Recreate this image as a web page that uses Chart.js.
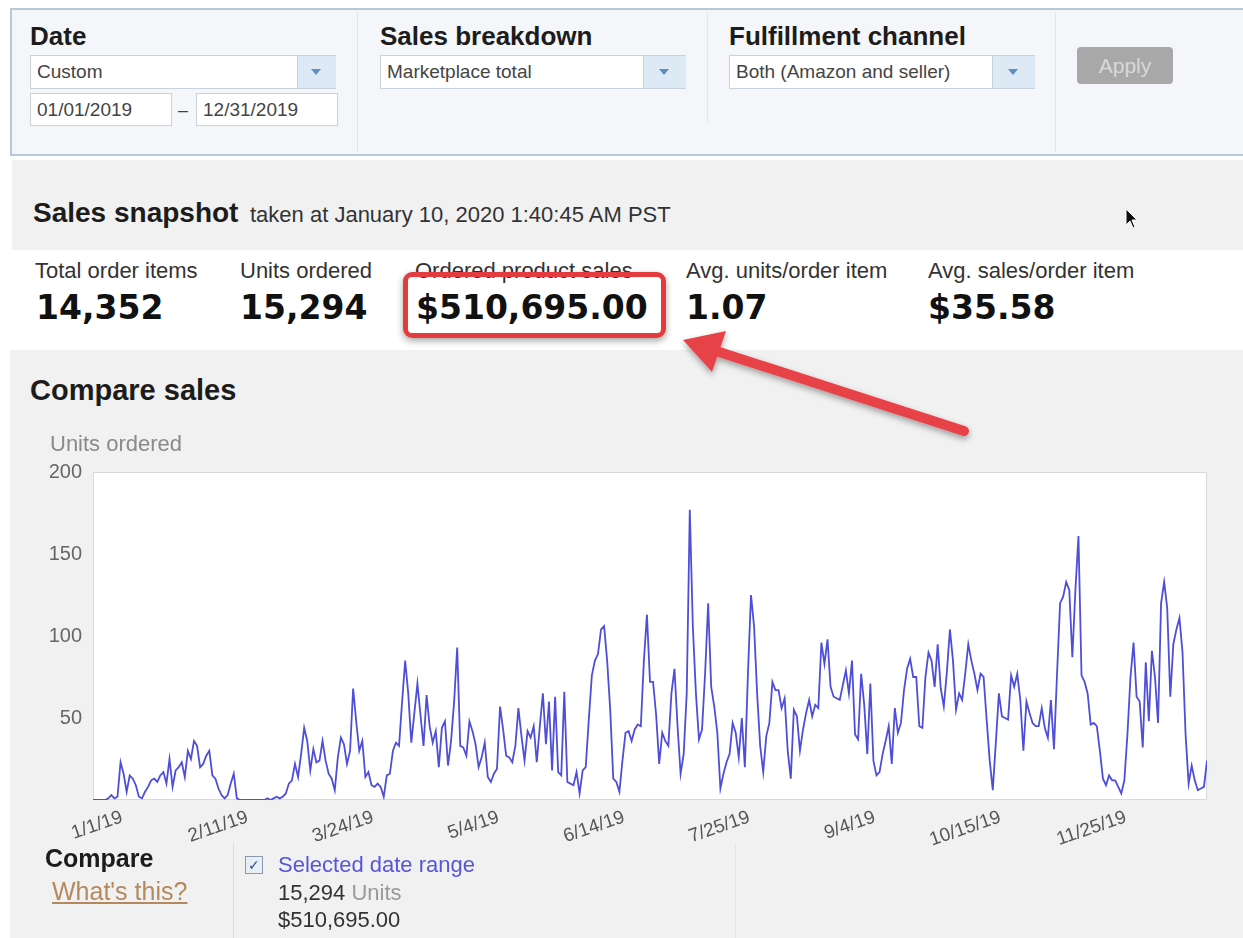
<!DOCTYPE html>
<html>
<head>
<meta charset="utf-8">
<title>Sales dashboard</title>
<script src="https://cdn.jsdelivr.net/npm/chart.js@4.4.1/dist/chart.umd.min.js"></script>
<style>
    body { margin: 0; width: 1243px; height: 938px; overflow: hidden; background: #fff; font-family: "Liberation Sans", Arial, sans-serif; color: #222; position: relative; }
    .abs { position: absolute; white-space: nowrap; }
    .filters { left: 10px; top: 8px; width: 1260px; height: 144px; background: #f4f6f9; border: 2px solid #b7c8d9; }
    .sep { width: 1px; background: #e2e6eb; }
    .head { font-weight: bold; font-size: 26px; color: #1c1c1c; }
    .box { background: #fff; border: 1px solid #c8d2dc; font-size: 19px; color: #444; line-height: 32px; padding-left: 6px; box-sizing: border-box; }
    .arrowbox { background: #dde9f5; border-left: 1px solid #c8d2dc; }
    .tri { width: 0; height: 0; border-left: 5px solid transparent; border-right: 5px solid transparent; border-top: 6px solid #5d8fc0; }
    .apply { background: #a8a8a8; color: #d9d9d9; font-size: 21px; border-radius: 4px; text-align: center; line-height: 37px; }
    .grey { background: #f1f1f1; }
    .mlabel { font-size: 22px; color: #333; }
    .mval { font-family: "DejaVu Sans", Verdana, sans-serif; font-weight: bold; font-size: 33px; color: #111; }
    .redbox { border: 5px solid #e43b3f; border-radius: 9px; box-shadow: 0 3px 7px rgba(0,0,0,0.35); box-sizing: border-box; }
</style>
</head>
<body>
<!-- filter bar -->
<div class="abs filters"></div>
<div class="abs sep" style="left:357px; top:12px; height:140px;"></div>
<div class="abs sep" style="left:707px; top:12px; height:110px;"></div>
<div class="abs sep" style="left:1055px; top:12px; height:140px;"></div>

<div class="abs head" style="left:30px; top:21px;">Date</div>
<div class="abs box" style="left:30px; top:55px; width:306px; height:34px;">Custom</div>
<div class="abs arrowbox" style="left:297px; top:56px; width:38px; height:32px;"></div>
<div class="abs tri" style="left:311px; top:69px;"></div>
<div class="abs box" style="left:30px; top:93px; width:142px; height:33px;">01/01/2019</div>
<div class="abs" style="left:178px; top:100px; font-size:18px; color:#444;">–</div>
<div class="abs box" style="left:196px; top:93px; width:142px; height:33px;">12/31/2019</div>

<div class="abs head" style="left:380px; top:21px;">Sales breakdown</div>
<div class="abs box" style="left:380px; top:55px; width:306px; height:34px;">Marketplace total</div>
<div class="abs arrowbox" style="left:643px; top:56px; width:42px; height:32px;"></div>
<div class="abs tri" style="left:659px; top:69px;"></div>

<div class="abs head" style="left:729px; top:21px;">Fulfillment channel</div>
<div class="abs box" style="left:729px; top:55px; width:306px; height:34px;">Both (Amazon and seller)</div>
<div class="abs arrowbox" style="left:992px; top:56px; width:42px; height:32px;"></div>
<div class="abs tri" style="left:1008px; top:69px;"></div>

<div class="abs apply" style="left:1077px; top:47px; width:96px; height:37px;">Apply</div>

<!-- snapshot -->
<div class="abs grey" style="left:12px; top:160px; width:1240px; height:90px;"></div>
<div class="abs" style="left:33px; top:197px; font-weight:bold; font-size:28px; color:#1c1c1c;">Sales snapshot</div>
<div class="abs" style="left:250px; top:202px; font-size:22px; color:#333;">taken at January 10, 2020 1:40:45 AM PST</div>
<svg class="abs" style="left:1125px; top:208px;" width="14" height="22"><path d="M1 1 L1 17 L5 13 L8 20 L10 19 L7 12 L12 12 Z" fill="#111" stroke="#fff" stroke-width="1"/></svg>

<div class="abs" style="left:12px; top:250px; width:1240px; height:85px; background:#fff;"></div>
<div class="abs mlabel" style="left:35px; top:258px;">Total order items</div>
<div class="abs mval" style="left:36px; top:288px;">14,352</div>
<div class="abs mlabel" style="left:240px; top:258px;">Units ordered</div>
<div class="abs mval" style="left:240px; top:288px;">15,294</div>
<div class="abs mlabel" style="left:415px; top:258px;">Ordered product sales</div>
<div class="abs mval" style="left:416px; top:288px;">$510,695.00</div>
<div class="abs mlabel" style="left:686px; top:258px;">Avg. units/order item</div>
<div class="abs mval" style="left:686px; top:288px;">1.07</div>
<div class="abs mlabel" style="left:928px; top:258px;">Avg. sales/order item</div>
<div class="abs mval" style="left:928px; top:288px;">$35.58</div>
<div class="abs redbox" style="left:403px; top:272px; width:263px; height:66px;"></div>

<!-- compare sales panel -->
<div class="abs grey" style="left:10px; top:350px; width:1240px; height:600px;"></div>
<div class="abs" style="left:30px; top:374px; font-weight:bold; font-size:29px; color:#1c1c1c;">Compare sales</div>

<div class="abs" style="left:40px; top:430px; width:1190px; height:420px;">
    <canvas id="salesChart"></canvas>
</div>

<div class="abs sep" style="left:233px; top:843px; height:100px; background:#dcdcdc;"></div>
<div class="abs sep" style="left:735px; top:843px; height:100px; background:#e4e4e4;"></div>
<div class="abs" style="left:45px; top:844px; font-weight:bold; font-size:25px; color:#1c1c1c;">Compare</div>
<div class="abs" style="left:52px; top:877px; font-size:25px; color:#b4895e; text-decoration:underline;">What's this?</div>
<div class="abs" style="left:245px; top:856px; width:16px; height:16px; border:1px solid #8a9bb0; background:#e8eef6; font-size:14px; line-height:16px; text-align:center; color:#2a4c8c;">&#10003;</div>
<div class="abs" style="left:278px; top:852px; font-size:22px; color:#5656d6;">Selected date range</div>
<div class="abs" style="left:278px; top:880px; font-size:22px; color:#333;">15,294 <span style="color:#9a9a9a;">Units</span></div>
<div class="abs" style="left:278px; top:907px; font-size:22px; color:#333;">$510,695.00</div>

<!-- red arrow -->
<svg class="abs" style="left:0; top:0;" width="1243" height="938">
    <defs>
        <filter id="shadow" x="-10%" y="-10%" width="120%" height="130%">
            <feDropShadow dx="0" dy="3" stdDeviation="3" flood-color="#000" flood-opacity="0.35"/>
        </filter>
    </defs>
    <g filter="url(#shadow)">
        <line x1="964" y1="431" x2="716" y2="351" stroke="#e8434a" stroke-width="10" stroke-linecap="round"/>
        <polygon points="683,340 726,331 712,372" fill="#e8434a"/>
    </g>
</svg>

<script>
"use strict";

// daily units ordered, 2019
const janUnits = [0, 0, 0, 0, 0, 1, 3, 1, 2, 23, 16, 5, 15, 13, 9, 2, 1, 5, 8, 12, 13, 11, 15, 17, 10, 25, 8, 18, 20, 23, 14];
const febUnits = [30, 25, 36, 33, 20, 22, 27, 30, 15, 13, 7, 3, 1, 3, 10, 16, 1, 0, 0, 0, 0, 0, 0, 0, 0, 0, 1, 0];
const marUnits = [1, 2, 1, 2, 4, 10, 12, 22, 14, 28, 44, 36, 18, 31, 23, 24, 36, 24, 16, 13, 6, 26, 38, 34, 22, 30, 68, 48, 30, 36, 14];
const aprUnits = [17, 9, 8, 10, 8, 2, 15, 16, 30, 35, 33, 60, 85, 65, 35, 53, 71, 52, 33, 64, 45, 35, 42, 20, 44, 48, 21, 36, 60, 93];
const mayUnits = [33, 32, 27, 48, 42, 34, 20, 26, 35, 14, 11, 16, 19, 57, 43, 27, 26, 23, 33, 56, 39, 24, 42, 38, 45, 23, 45, 65, 34, 60, 18];
const junUnits = [63, 17, 15, 66, 11, 10, 9, 17, 4, 18, 20, 49, 76, 85, 89, 104, 106, 85, 55, 13, 11, 5, 24, 41, 42, 36, 43, 46, 45, 85];
const julUnits = [113, 72, 72, 52, 22, 41, 36, 33, 65, 80, 45, 16, 28, 65, 177, 106, 65, 37, 43, 77, 120, 69, 57, 41, 7, 16, 23, 28, 47, 41, 26];
const augUnits = [50, 20, 77, 125, 106, 65, 33, 17, 39, 47, 72, 67, 67, 56, 62, 30, 13, 55, 51, 30, 43, 53, 61, 51, 58, 56, 96, 83, 98, 69, 63];
const sepUnits = [62, 61, 70, 79, 65, 85, 40, 37, 77, 58, 28, 71, 24, 15, 17, 28, 36, 45, 22, 56, 41, 47, 67, 80, 86, 75, 75, 45, 44, 75];
const octUnits = [90, 85, 69, 95, 68, 57, 78, 104, 85, 55, 65, 61, 77, 95, 85, 77, 67, 77, 75, 49, 24, 6, 35, 65, 51, 50, 49, 76, 69, 77, 61];
const novUnits = [30, 60, 53, 47, 45, 45, 56, 44, 38, 61, 31, 77, 120, 124, 133, 128, 87, 128, 161, 76, 72, 65, 46, 47, 45, 30, 13, 9, 15, 12];
const decUnits = [12, 8, 4, 12, 40, 75, 96, 63, 60, 32, 84, 48, 91, 75, 47, 120, 133, 117, 63, 95, 104, 111, 90, 40, 10, 21, 12, 6, 7, 8, 24];

const xTickLabels = ["1/1/19", "2/11/19", "3/24/19", "5/4/19", "6/14/19", "7/25/19", "9/4/19", "10/15/19", "11/25/19"];
const xTickStep = 41; // days between labels
const yTicks = [50, 100, 150, 200];

// white plot background + thin frame
const plotFrame = {
    id: "plotFrame",
    beforeDatasetsDraw(chart) {
        const { ctx, chartArea: a } = chart;
        ctx.save();
        ctx.fillStyle = "#fff";
        ctx.fillRect(a.left, a.top, a.right - a.left, a.bottom - a.top);
        ctx.strokeStyle = "#d9d9d9";
        ctx.lineWidth = 1;
        ctx.strokeRect(a.left + 0.5, a.top + 0.5, a.right - a.left - 1, a.bottom - a.top - 1);
        ctx.restore();
    }
};

const renderChart = () => {
    const units = [].concat(janUnits, febUnits, marUnits, aprUnits, mayUnits, junUnits,
        julUnits, augUnits, sepUnits, octUnits, novUnits, decUnits);
    const points = units.map((v, i) => ({ x: i, y: v }));

    new Chart(document.getElementById("salesChart"), {
        type: "line",
        data: {
            datasets: [{
                label: "Units ordered",
                data: points,
                borderColor: "#4e4ed8",
                borderWidth: 1.8,
                pointRadius: 0,
                tension: 0,
                fill: false
            }]
        },
        options: {
            responsive: true,
            maintainAspectRatio: false,
            animation: false,
            layout: { padding: { left: 10, right: 23, top: 0, bottom: 0 } },
            plugins: {
                legend: { display: false },
                tooltip: { enabled: false },
                title: {
                    display: true,
                    text: "Units ordered",
                    align: "start",
                    color: "#8a8a8a",
                    font: { family: "Liberation Sans", size: 22, weight: "normal" },
                    padding: { top: 2, bottom: 13.6 }
                }
            },
            scales: {
                x: {
                    type: "linear",
                    min: 0,
                    max: units.length - 1,
                    grid: { display: false, drawTicks: false },
                    border: { display: false },
                    afterFit: (scale) => {
                        scale.height = 50;
                        // rotated labels overhang the left edge; don't let that push the plot
                        scale.paddingLeft = 0;
                        scale.paddingRight = 0;
                    },
                    afterBuildTicks: (scale) => {
                        scale.ticks = xTickLabels.map((_, i) => ({ value: i * xTickStep }));
                    },
                    ticks: {
                        autoSkip: false,
                        maxRotation: 19,
                        minRotation: 19,
                        padding: 6,
                        labelOffset: 29,
                        color: "#555",
                        font: { family: "Liberation Sans", size: 19 },
                        callback: (value) => xTickLabels[Math.round(value / xTickStep)]
                    }
                },
                y: {
                    min: 0,
                    max: 200,
                    grid: { display: false, drawTicks: false },
                    border: { display: false },
                    afterFit: (scale) => { scale.width = 43; },
                    afterBuildTicks: (scale) => {
                        scale.ticks = yTicks.map(v => ({ value: v }));
                    },
                    ticks: {
                        padding: 11,
                        color: "#666",
                        font: { family: "Liberation Sans", size: 20 }
                    }
                }
            }
        },
        plugins: [plotFrame]
    });
};

document.addEventListener("DOMContentLoaded", () => {
    renderChart();
});
</script>
</body>
</html>
